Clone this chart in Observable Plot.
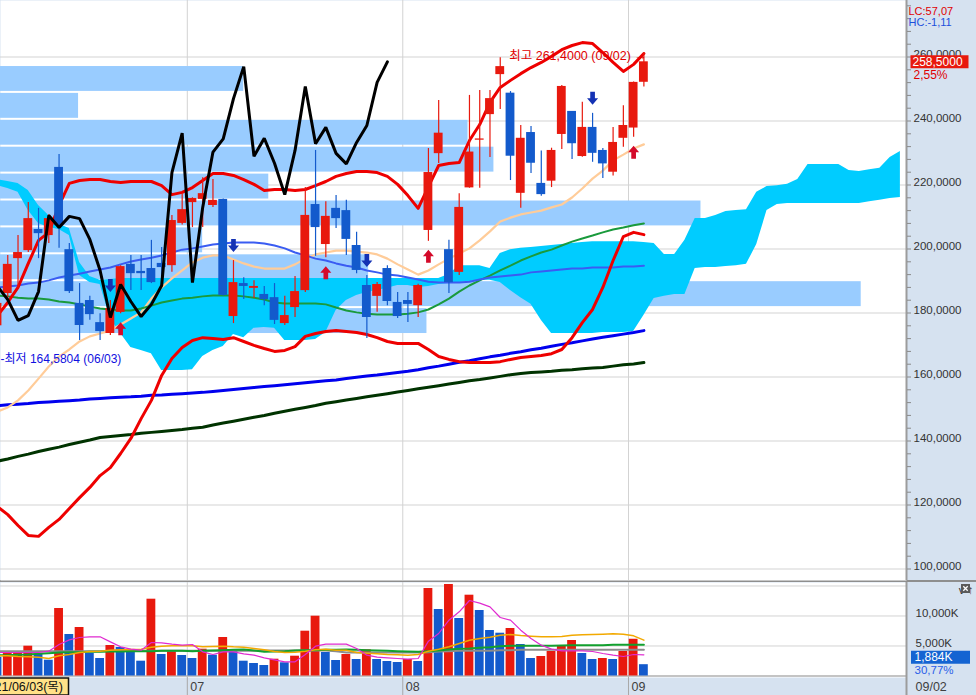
<!DOCTYPE html>
<html lang="ko">
<head>
<meta charset="utf-8">
<script src="https://cdn.jsdelivr.net/npm/d3@7"></script>
<script src="https://cdn.jsdelivr.net/npm/@observablehq/plot@0.6"></script>
<style>
  html, body { margin: 0; padding: 0; background: #d6e2f0; }
  #chart { width: 976px; height: 695px; overflow: hidden; background: #d6e2f0; }
  #chart svg { display: block; }
  .sep { height: 2px; background: #8e8e8e; }
</style>
</head>
<body>
<div id="chart"></div>
<script>
// ---------------- data ----------------
const dates = ["06/03","06/04","06/07","06/08","06/09","06/10","06/11","06/14","06/15","06/16","06/17","06/18","06/21","06/22","06/23","06/24","06/25","06/28","06/29","06/30",
  "07/01","07/02","07/06","07/07","07/08","07/09","07/12","07/13","07/14","07/15","07/16","07/19","07/20","07/21","07/22","07/23","07/26","07/27","07/28","07/29","07/30",
  "08/02","08/03","08/04","08/05","08/06","08/09","08/10","08/11","08/12","08/13","08/16","08/17","08/18","08/19","08/20","08/23","08/24","08/25","08/26","08/27","08/30","08/31",
  "09/01","09/02"];
const year = 2021;

const open  = [170.0,176.0,186.1,197.0,199.5,206.1,204.2,225.5,199.8,183.0,183.9,177.0,173.6,180.2,195.2,193.0,193.9,195.5,194.8,208.0,214.5,215.5,213.6,215.5,178.9,189.2,187.7,185.8,184.8,176.7,181.7,187.0,213.9,201.4,212.7,212.0,201.1,188.6,185.2,193.9,183.3,183.9,182.3,205.8,229.8,199.8,192.7,219.1,234.0,242.0,254.5,248.7,217.4,236.4,220.5,221.2,235.8,243.0,228.9,238.0,230.8,224.0,234.6,237.8,252.1];
const high  = [176.0,185.0,198.0,204.2,214.5,212.7,210.8,229.5,201.7,189.2,185.2,179.8,183.9,194.8,198.0,198.0,202.7,200.5,210.5,217.3,216.0,222.3,221.7,215.6,196.4,191.0,190.1,188.3,189.2,185.2,191.4,219.2,230.8,214.8,216.7,215.2,205.2,191.7,189.5,194.8,186.4,186.4,189.0,231.4,246.4,202.7,217.3,248.0,249.5,249.5,259.8,249.2,238.6,238.3,230.6,231.5,251.1,243.0,245.9,242.4,231.4,238.0,244.8,252.2,261.4];
const low   = [164.5804,175.0,184.8,187.7,198.9,197.0,201.7,200.2,186.1,171.4,177.7,171.4,173.0,179.8,187.0,187.0,189.2,190.2,192.7,207.5,206.7,206.7,213.0,185.3,176.7,184.2,184.5,182.3,176.4,176.1,178.6,186.4,197.7,197.3,206.4,198.0,192.3,172.0,180.2,182.3,178.3,177.0,178.6,202.4,226.7,186.1,191.7,219.0,219.0,228.6,243.6,221.4,212.7,223.6,216.5,219.2,231.1,228.0,228.7,227.1,222.0,222.8,231.8,234.9,250.6];
const close = [174.0,183.0,195.2,198.9,209.5,204.8,209.5,207.3,186.7,176.1,179.5,174.2,181.4,194.5,192.3,192.3,189.5,194.2,208.9,212.3,215.8,217.3,215.2,185.5,189.5,188.3,188.3,184.2,177.7,179.2,186.7,210.5,206.7,210.2,209.5,203.0,193.3,178.6,188.9,183.6,178.9,182.7,188.6,223.9,236.2,189.5,213.0,230.3,234.4,247.0,257.0,229.0,234.6,226.8,217.0,230.8,250.8,232.9,238.0,229.9,226.6,233.3,238.6,252.07,258.5];
// volume, thousands
const volume = [3500,3083,3750,4033,4967,3583,2633,11250,6917,8083,3750,2917,5083,4750,3917,2467,12800,3583,4133,3417,2917,4467,3467,6417,4300,2467,2083,1750,2800,2200,3300,7467,9967,3917,2583,3583,2750,4367,2750,2417,2250,2750,2417,14583,11083,15250,9583,13467,10917,7583,7133,7917,5250,2917,3250,4083,5033,5917,3750,2750,2917,2750,4083,6123,1884];

// indicator lines, from 06/04 (second date) onward
const maPeach = [149.2,150.5,152.7,155.8,159.5,163.3,166.4,168.6,171.1,172.7,173.6,174.5,176.4,178.3,180.2,184.5,188.0,190.8,193.3,195.8,197.3,198.0,198.0,196.7,195.5,194.5,193.9,193.9,193.9,195.2,197.0,198.3,198.9,199.5,199.5,199.2,198.9,198.3,197.0,195.2,193.6,192.0,193.3,195.2,197.0,198.6,200.2,202.7,205.5,208.6,209.8,210.8,211.4,212.0,213.0,213.9,216.1,218.9,222.0,224.5,227.7,229.5,231.4,232.7];
const maBlue = [188.0,188.3,188.6,189.2,189.5,190.2,191.1,191.7,192.3,193.0,193.6,194.2,195.2,196.1,196.7,197.3,198.0,198.9,199.8,200.2,200.8,201.4,201.7,202.0,202.0,202.0,201.7,201.1,200.2,198.9,198.0,197.0,196.4,195.5,194.8,194.2,193.3,192.7,192.0,191.7,191.1,190.5,189.8,189.5,189.5,189.5,189.8,190.5,191.1,191.4,191.7,192.0,192.7,193.0,193.3,193.6,193.9,193.9,194.2,194.2,194.2,194.5,194.5,194.8];
const maGreen = [185.5,185.2,184.8,184.5,184.5,184.2,183.6,183.3,182.7,182.0,181.4,181.1,180.8,180.8,181.4,182.3,183.3,183.9,184.5,184.8,185.2,185.5,185.5,185.5,185.2,184.8,184.2,183.3,183.0,183.0,183.0,183.0,182.7,181.7,180.8,180.2,179.8,179.5,179.5,179.5,179.8,180.2,181.1,182.7,184.5,186.7,188.6,190.2,191.7,193.3,194.8,196.4,197.7,198.9,199.8,201.1,202.3,203.3,204.2,205.2,206.1,206.7,207.4,208.0];
const maDarkBlue = [151.0,151.3,151.5,151.7,152.0,152.2,152.4,152.6,152.8,153.1,153.3,153.5,153.7,153.8,154.0,154.3,154.4,154.6,154.8,155.0,155.2,155.5,155.8,156.1,156.4,156.7,157.0,157.3,157.6,157.9,158.2,158.5,158.8,159.1,159.5,159.9,160.3,160.6,161.0,161.4,161.8,162.3,162.9,163.4,164.0,164.6,165.1,165.7,166.3,166.8,167.4,167.9,168.5,169.0,169.6,170.2,170.7,171.3,171.9,172.4,172.9,173.4,173.9,174.5];
const maDarkGreen = [133.7,134.4,135.2,135.9,136.7,137.4,138.1,138.9,139.6,140.3,141.1,141.4,141.7,142.0,142.4,142.7,143.0,143.3,143.6,144.0,144.3,145.0,145.6,146.2,146.8,147.4,148.0,148.7,149.3,149.9,150.5,151.1,151.8,152.3,152.8,153.3,153.8,154.3,154.8,155.3,155.8,156.3,156.8,157.3,157.8,158.3,158.8,159.2,159.7,160.2,160.7,161.1,161.4,161.6,161.8,162.1,162.3,162.6,162.8,163.0,163.4,163.8,164.1,164.5];
const bandUpper = [179.2,183.3,188.0,195.5,202.7,205.2,213.6,220.5,221.4,221.7,221.7,221.1,220.8,221.1,221.1,221.1,219.8,217.0,217.7,219.2,221.4,223.6,223.6,223.0,221.7,220.2,218.3,218.6,218.6,218.3,218.6,219.8,221.1,222.7,223.6,224.2,224.2,223.9,222.7,220.2,216.7,212.7,219.5,226.1,226.7,227.0,233.9,238.9,245.8,250.5,252.7,254.8,256.7,258.3,260.2,262.3,263.6,264.5,264.2,261.4,258.3,255.5,257.7,261.1];
const bandLower = [119.5,117.0,113.6,110.5,110.2,113.0,115.5,118.9,122.3,125.5,129.2,131.7,136.1,140.8,147.0,152.7,160.5,165.8,169.2,171.4,172.3,172.0,171.7,172.3,171.1,169.9,168.9,168.0,168.3,169.5,172.7,173.6,174.2,174.5,174.2,173.9,173.3,172.3,171.1,170.5,170.5,170.5,168.6,166.4,165.5,164.8,164.5,164.5,164.5,164.8,165.5,166.1,166.4,166.7,167.3,168.6,172.3,177.0,181.1,188.0,196.4,203.9,205.2,204.5];

// Ichimoku cloud (leading spans), from 06/04 running 25 bars past the last date
const cloudUpper = [221.7,221.1,220.5,218.3,213.6,210.5,207.7,206.4,195.8,191.4,190.2,190.5,
  190.8,190.8,190.8,190.8,190.8,190.8,190.8,190.8,190.8,190.8,190.8,190.8,190.8,190.8,190.8,190.8,
  190.8,190.8,190.8,190.8,190.8,190.8,190.8,190.8,190.8,190.8,190.8,190.8,190.8,190.8,190.8,190.8,
  192.0,194.8,194.8,194.8,193.9,198.6,199.8,200.2,200.5,200.8,201.1,201.4,201.7,202.0,202.3,202.3,202.3,202.3,202.3,202.0,201.7,198.3,198.3,202.7,209.5,209.5,210.5,211.7,212.0,212.3,217.7,219.5,219.8,220.2,221.7,226.4,226.4,226.4,226.4,224.5,224.2,224.8,225.2,228.6,230.5];
const cloudLower = [219.8,218.9,217.7,212.0,208.0,206.7,206.1,204.2,191.7,189.5,
  188.9,178.3,173.6,169.2,168.3,167.3,162.0,162.0,162.0,162.3,
  166.4,168.3,169.5,173.3,172.3,175.2,175.5,175.2,171.4,171.4,
  171.4,171.7,173.9,180.8,183.9,185.5,186.4,187.0,187.7,188.6,
  188.6,188.0,188.3,188.9,189.2,189.5,189.8,190.2,190.2,189.5,
  187.0,184.8,182.7,177.7,173.6,173.6,173.6,173.6,173.6,173.9,
  173.9,173.9,174.2,179.2,184.5,185.2,185.8,185.8,193.9,194.2,
  194.2,194.5,194.8,195.2,201.4,212.0,213.9,214.2,214.2,214.2,
  214.2,214.2,214.2,214.2,214.2,214.8,215.2,215.8,216.1];
const chikouLag = 25;

// volume-by-price profile: price band edges (top to bottom) and share of volume (%)
const profileEdges = [257.34,248.94,240.53,232.13,223.72,215.31,206.91,198.50,190.10,181.69,173.28];
const profileShare = [5.92,1.90,11.38,12.01,6.53,17.05,4.92,8.96,20.95,10.38];

// volume moving averages, from 06/04 onward
const volMA5 = [3917,3917,3917,3917,3917,4139,5250,6028,6417,6528,6528,5694,4861,4472,4306,5583,5528,5306,5139,5250,4028,3583,4028,4028,3694,3472,3028,2694,2361,2361,3583,4972,5306,5306,5306,4583,3472,3139,3028,2917,2806,2917,5806,7083,9306,10694,12583,12139,11528,9750,9306,7639,6250,5139,4472,4194,4194,4194,4083,3750,3472,3250,3583,3528];
const volMA20 = [3361,3361,3250,3194,3139,2917,3361,3583,3917,4083,4139,4306,4361,4417,4472,4806,4972,5028,5028,5028,4861,4917,4972,4861,4806,4583,4361,4083,3917,3972,4139,4361,4472,4306,4306,3917,3806,3694,3583,3528,3472,3583,4139,4472,4861,5417,5972,6250,6472,6806,6917,6750,6639,6528,6528,6583,6806,6861,6917,6972,7028,6972,6694,5972];
const volMA60 = [3472,3472,3528,3583,3694,3806,3917,3972,3972,4028,4028,4083,4083,4139,4139,4139,4194,4194,4194,4139,4194,4250,4306,4361,4417,4250,4028,4083,4139,4250,4306,4306,4361,4361,4417,4361,4306,4250,4194,4139,4083,4028,4139,4250,4417,4528,4583,4694,4806,4972,5028,5028,5028,5028,5028,5083,5139,5139,5139,5139,5194,5194,5194,5194];
const volMA120 = [4139,4139,4139,4139,4139,4139,4139,4139,4139,4139,4139,4194,4194,4194,4194,4194,4194,4194,4194,4194,4194,4194,4194,4194,4194,4194,4250,4250,4250,4250,4250,4250,4250,4139,3917,3917,3917,3917,3917,3917,3917,3917,3972,4083,4139,4194,4194,4194,4194,4306,4306,4361,4361,4361,4361,4361,4361,4361,4361,4361,4361,4361,4361,4361];

const sellSignals = ["06/21","07/08","07/27","08/26"];
const buySignals  = ["06/22","07/21","08/04","09/01"];

const priceTicks = [100,120,140,160,180,200,220,240,260];
const volumeTicks = [5000,10000];

// ---------------- helpers ----------------
const FONT = "'Liberation Sans','Noto Sans CJK KR','DejaVu Sans',sans-serif";
const RED = "#e8190e", BLUE = "#135acc";
const fmtDec = (v, n) => v.toFixed(n).replace(".", ",");
const fmtK = v => d3.format(",")(Math.round(v)) + "K";
const weekdays = ["일","월","화","수","목","금","토"];

const X_DOMAIN = [1.2924, 89.596];
const PRICE_DOMAIN = [96.41, 277.66];
const VOL_DOMAIN = [-250, 15583.3];
const BAR_HALF = 0.43;
const PROFILE_SPAN = 0.95;

const candles = dates.map((d, p) => ({p, date: d, o: open[p], h: high[p], l: low[p], c: close[p]}));
const candleColor = d => d.c >= d.o ? RED : BLUE;
const seriesAt = arr => arr.map((v, k) => ({p: k + 1, v}));
const chikou = close.slice(chikouLag).map((v, k) => ({p: k, v}));
const cloud = cloudUpper.map((u, k) => ({p: k + 1, a: u, b: cloudLower[k]}));
const maxShare = d3.max(profileShare);
const profile = profileShare.map((s, k) => ({top: profileEdges[k], bottom: profileEdges[k + 1], share: s}));
const months = dates.map((d, p) => ({p, m: d.slice(0, 2)})).filter(d => d.p > 0 && d.m !== dates[d.p - 1].slice(0, 2));
const vols = volume.map((v, p) => ({p, v, color: p > 0 && v > volume[p - 1] ? RED : BLUE}));

const last = dates.length - 1;
const hiIdx = d3.maxIndex(high), loIdx = d3.minIndex(low);
const lc = (close[last] / low[loIdx] - 1) * 100;
const hc = (close[last] / high[hiIdx] - 1) * 100;
const chg = (close[last] / close[last - 1] - 1) * 100;
const volRatio = volume[last] / volume[last - 1] * 100;

const arrowSymbol = dir => ({
  draw(ctx, size) {
    const r = Math.sqrt(size / Math.PI), sw = r * 0.36, hw = r * 0.85;
    ctx.moveTo(-sw, -r * dir); ctx.lineTo(sw, -r * dir); ctx.lineTo(sw, 0); ctx.lineTo(hw, 0);
    ctx.lineTo(0, r * dir); ctx.lineTo(-hw, 0); ctx.lineTo(-sw, 0); ctx.closePath();
  }
});
const boxSymbol = (w, h) => ({draw(ctx) { ctx.rect(-w / 2, -h / 2, w, h); }});
const crossSymbol = s => ({draw(ctx) { ctx.moveTo(-s, -s); ctx.lineTo(s, s); ctx.moveTo(s, -s); ctx.lineTo(-s, s); }});

const baseStyle = {fontFamily: FONT, fontSize: "11.5px", background: "transparent", overflow: "visible"};

// ---------------- main price panel ----------------
const mainSvg = Plot.plot({
  width: 976, height: 580,
  marginLeft: 0, marginRight: 70, marginTop: 0, marginBottom: 0,
  style: baseStyle,
  x: {domain: X_DOMAIN, range: [0, 906], axis: null},
  y: {domain: PRICE_DOMAIN, axis: null},
  color: {type: "identity"},
  marks: [
    Plot.frame({fill: "white", stroke: null}),
    Plot.gridY(priceTicks, {stroke: "#d3d3d3", strokeOpacity: 1}),
    Plot.gridX(months, {x: d => d.p - 0.5, stroke: "#d3d3d3", strokeOpacity: 1}),
    Plot.rect(profile, {
      x1: X_DOMAIN[0],
      x2: d => X_DOMAIN[0] + d.share / maxShare * (X_DOMAIN[1] - X_DOMAIN[0]) * PROFILE_SPAN,
      y1: "bottom", y2: "top", fill: "#99ccff", insetTop: 1, insetBottom: 1
    }),
    Plot.areaY(cloud, {x: "p", y1: "a", y2: "b", fill: "#00ccff"}),
    Plot.line(seriesAt(maDarkGreen), {x: "p", y: "v", stroke: "#003300", strokeWidth: 3}),
    Plot.line(seriesAt(maDarkBlue), {x: "p", y: "v", stroke: "#0000ee", strokeWidth: 3}),
    Plot.line(seriesAt(maPeach), {x: "p", y: "v", stroke: "#ffcc99", strokeWidth: 2.2}),
    Plot.line(seriesAt(maGreen), {x: "p", y: "v", stroke: "#1a9a3c", strokeWidth: 2}),
    Plot.line(seriesAt(maBlue), {x: "p", y: "v", stroke: "#3a5cf2", strokeWidth: 2}),
    Plot.line(seriesAt(bandLower), {x: "p", y: "v", stroke: "#ee0000", strokeWidth: 3}),
    Plot.line(seriesAt(bandUpper), {x: "p", y: "v", stroke: "#ee0000", strokeWidth: 3}),
    Plot.ruleX(candles, {x: "p", y1: "l", y2: "h", stroke: candleColor, strokeWidth: 1.2}),
    Plot.rect(candles, {x1: d => d.p - BAR_HALF, x2: d => d.p + BAR_HALF, y1: "o", y2: "c", fill: candleColor}),
    Plot.line(chikou, {x: "p", y: "v", stroke: "#000", strokeWidth: 3, strokeLinejoin: "miter"}),
    Plot.dot(candles.filter(d => sellSignals.includes(d.date)), {x: "p", y: "h", dy: -15, r: 6.5, symbol: arrowSymbol(1), fill: "#1432b4", stroke: "none"}),
    Plot.dot(candles.filter(d => buySignals.includes(d.date)), {x: "p", y: "l", dy: 15, r: 6.5, symbol: arrowSymbol(-1), fill: "#d40a2a", stroke: "none"}),
    Plot.text([candles[hiIdx]], {x: "p", y: "h", text: d => `최고 ${fmtDec(d.h, 4)} (${d.date}) →`, textAnchor: "end", dx: 3, dy: 3, fill: "#e00000", fontSize: 12.5}),
    Plot.text([candles[loIdx]], {frameAnchor: "left", y: "l", text: d => `-최저 ${fmtDec(d.l, 4)} (${d.date})`, textAnchor: "start", dy: -3, fill: "#1010e0", fontSize: 12}),
    Plot.ruleX([X_DOMAIN[1]], {stroke: "#9c9c9c", strokeWidth: 2}),
    Plot.axisY(d3.range(100, 277, 4), {anchor: "right", tickSize: 4, tickFormat: () => "", stroke: "#8a8a8a"}),
    Plot.axisY(priceTicks, {anchor: "right", tickSize: 0, tickPadding: 7, tickFormat: d => fmtDec(d, 4), fill: "#333", fontSize: 11.5, dy: -2.5}),
    Plot.dot([{v: close[last]}], {y: "v", frameAnchor: "right", dx: 33, symbol: boxSymbol(58, 13), fill: RED, stroke: "none"}),
    Plot.text([{v: close[last]}], {y: "v", frameAnchor: "right", dx: 6, textAnchor: "start", text: d => fmtDec(d.v, 4), fill: "white", fontSize: 12}),
    Plot.text([{v: close[last]}], {y: "v", frameAnchor: "right", dx: 7, dy: 13, textAnchor: "start", text: () => `${fmtDec(chg, 2)}%`, fill: "#e00000", fontSize: 12}),
    Plot.text([`LC:${fmtDec(lc, 2)}`], {frameAnchor: "top-right", dx: 2, dy: 6.5, textAnchor: "start", fill: "#e00000", fontSize: 11}),
    Plot.text([`HC:${fmtDec(hc, 2)}`], {frameAnchor: "top-right", dx: 2, dy: 17.5, textAnchor: "start", fill: "#1d50dc", fontSize: 11})
  ]
});

// ---------------- volume panel ----------------
const volSvg = Plot.plot({
  width: 976, height: 95,
  marginLeft: 0, marginRight: 70, marginTop: 0, marginBottom: 0,
  style: baseStyle,
  x: {domain: X_DOMAIN, range: [0, 906], axis: null},
  y: {domain: VOL_DOMAIN, axis: null},
  color: {type: "identity"},
  marks: [
    Plot.frame({fill: "white", stroke: null}),
    Plot.gridY([5000, 10000, 15000], {stroke: "#d3d3d3", strokeOpacity: 1}),
    Plot.gridX(months, {x: d => d.p - 0.5, stroke: "#d3d3d3", strokeOpacity: 1}),
    Plot.ruleY([0], {stroke: "#b0b0b0", strokeWidth: 1.5}),
    Plot.rect(vols, {x1: d => d.p - BAR_HALF, x2: d => d.p + BAR_HALF, y1: 0, y2: "v", fill: "color"}),
    Plot.line(seriesAt(volMA120), {x: "p", y: "v", stroke: "#8c8c8c", strokeWidth: 2}),
    Plot.line(seriesAt(volMA60), {x: "p", y: "v", stroke: "#12a02e", strokeWidth: 2}),
    Plot.line(seriesAt(volMA20), {x: "p", y: "v", stroke: "#f2a900", strokeWidth: 1.5}),
    Plot.line(seriesAt(volMA5), {x: "p", y: "v", stroke: "#e02ad0", strokeWidth: 1.2}),
    Plot.ruleX([X_DOMAIN[1]], {stroke: "#9c9c9c", strokeWidth: 2}),
    Plot.axisY(volumeTicks, {anchor: "right", tickSize: 0, tickPadding: 9, tickFormat: fmtK, fill: "#333", fontSize: 11.5, dy: -2.5}),
    Plot.dot([{v: volume[last]}], {y: "v", frameAnchor: "right", dx: 34, dy: -7.5, symbol: boxSymbol(59, 13), fill: "#1464d2", stroke: "none"}),
    Plot.text([{v: volume[last]}], {y: "v", frameAnchor: "right", dx: 8, dy: -7.5, textAnchor: "start", text: d => fmtK(d.v), fill: "white", fontSize: 12}),
    Plot.text([{v: volume[last]}], {y: "v", frameAnchor: "right", dx: 8, dy: 5.5, textAnchor: "start", text: () => `${fmtDec(volRatio, 2)}%`, fill: "#2a5ee8", fontSize: 11.5}),
    Plot.dot([{v: VOL_DOMAIN[1]}], {y: "v", frameAnchor: "right", dx: 59, dy: 6, symbol: boxSymbol(9, 9), fill: "#5a5a5a", stroke: "none"}),
    Plot.dot([{v: VOL_DOMAIN[1]}], {y: "v", frameAnchor: "right", dx: 59, dy: 6, symbol: crossSymbol(2.2), fill: "none", stroke: "white", strokeWidth: 1.3})
  ]
});

// ---------------- date strip ----------------
const [mm0, dd0] = dates[0].split("/").map(Number);
const firstLabel = `${String(year).slice(2)}/${dates[0]}(${weekdays[new Date(year, mm0 - 1, dd0).getDay()]})`;
const dateSvg = Plot.plot({
  width: 976, height: 18,
  marginLeft: 0, marginRight: 70, marginTop: 0, marginBottom: 0,
  style: baseStyle,
  x: {domain: X_DOMAIN, range: [0, 906], axis: null},
  marks: [
    Plot.ruleX(months, {x: d => d.p - 0.5, stroke: "#a8a8a8"}),
    Plot.text(months, {x: d => d.p - 0.5, text: "m", dx: 3, textAnchor: "start", fill: "#404040", fontSize: 12.5}),
    Plot.dot([0], {frameAnchor: "left", dx: 29, symbol: boxSymbol(78, 17), fill: "#ffe188", stroke: "#111", strokeWidth: 1.5}),
    Plot.text([firstLabel], {frameAnchor: "left", dx: -6, textAnchor: "start", fill: "#111", fontSize: 12.5}),
    Plot.ruleX([X_DOMAIN[1]], {stroke: "#9c9c9c", strokeWidth: 2}),
    Plot.text([dates[last]], {frameAnchor: "right", dx: 9, textAnchor: "start", fill: "#404040", fontSize: 12.5})
  ]
});

const root = document.getElementById("chart");
root.append(mainSvg);
const sep = document.createElement("div");
sep.className = "sep";
root.append(sep);
root.append(volSvg);
root.append(dateSvg);
</script>
</body>
</html>
